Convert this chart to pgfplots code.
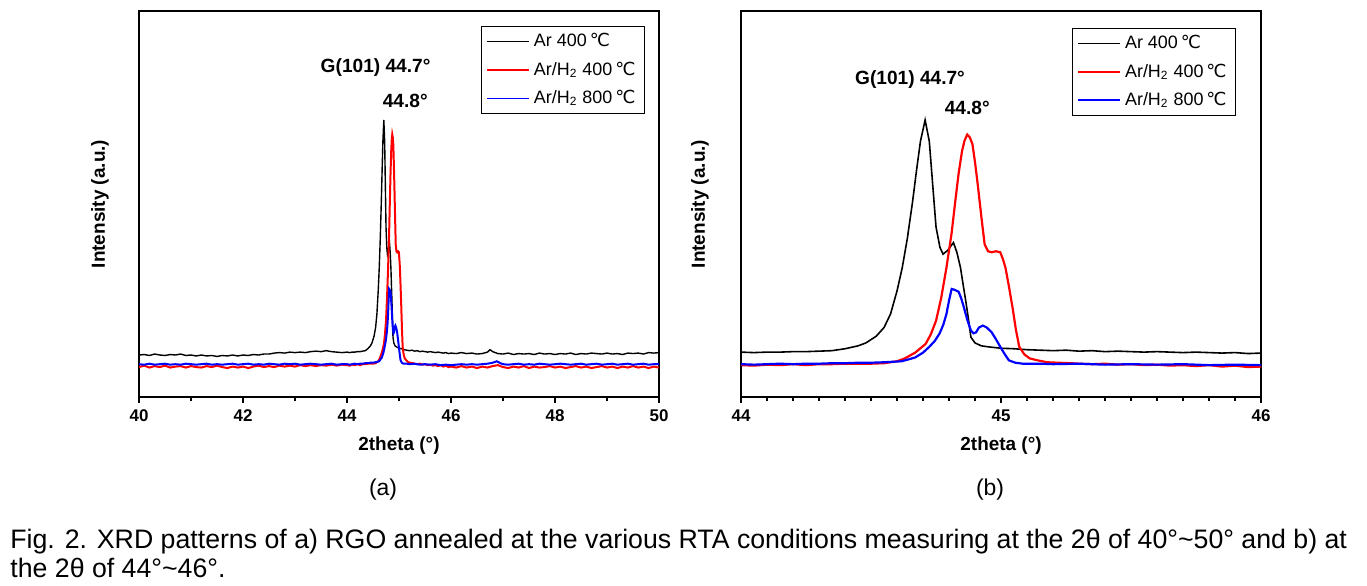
\documentclass[border=0pt]{standalone}
\usepackage{fontspec}
\setmainfont{Liberation Sans}
\newfontfamily\dejavu{DejaVu Sans}
\usepackage{pgfplots}
\pgfplotsset{compat=1.18}
\usepackage{pgfplotstable}
\newcommand{\degC}{\,{\dejavu ℃}}

\pgfplotstableread{
x y
40.0 43.5
40.1 44
40.2 43
40.3 44.5
40.4 43.5
40.5 43
40.6 44
40.7 43.5
40.8 44.5
40.9 43
41.0 43.5
41.1 42.5
41.2 43.5
41.3 42.5
41.4 43
41.5 42
41.6 43
41.7 42.5
41.8 43.5
41.9 42.5
42.0 43.5
42.1 43
42.2 44
42.3 43.5
42.4 44.5
42.5 44.5
42.6 45.5
42.7 46
42.8 45.5
42.9 46.5
43.0 46
43.1 46.5
43.2 46
43.3 47
43.4 47.5
43.5 47
43.6 48
43.7 47
43.8 46.5
43.9 46
44.0 46.5
44.05 46
44.1 46.5
44.15 46.5
44.2 47
44.25 47
44.3 47.5
44.35 48
44.4 50
44.45 53
44.48 56
44.52 63
44.55 72
44.575 86
44.6 110
44.62 134
44.64 165
44.66 203
44.675 235
44.69 265
44.708 287
44.724 265
44.74 210
44.75 176
44.765 155
44.777 148
44.795 152
44.817 160
44.83 150
44.844 134
44.855 115
44.864 100
44.875 80
44.884 62
44.9 56
44.924 53
44.95 52
45.0 50.5
45.05 50
45.1 49
45.15 48.5
45.2 48
45.25 48.5
45.3 47.5
45.35 48
45.4 47
45.45 47.5
45.5 47
45.55 46.5
45.6 47
45.65 46.5
45.7 46
45.75 46.5
45.8 46
45.85 45.5
45.9 46
45.95 45
46.0 45.5
46.1 45
46.2 46
46.3 45
46.4 45.5
46.5 44.5
46.6 45
46.7 46.5
46.75 49
46.8 47
46.9 45
47.0 44.5
47.1 45.5
47.2 44
47.3 45
47.4 44.5
47.5 45
47.6 44
47.7 45.5
47.8 44.5
47.9 45
48.0 44
48.1 45
48.2 44.5
48.3 45.5
48.4 44
48.5 45
48.6 44.5
48.7 45.5
48.8 45
48.9 44.5
49.0 45.5
49.1 44.5
49.2 45
49.3 44
49.4 45.5
49.5 45
49.6 45.5
49.7 44.5
49.8 46
49.9 45.5
50.0 46
}\blackdata

\pgfplotstableread{
x y
40.0 31
40.1 32.5
40.2 30.5
40.3 32
40.4 31
40.5 32.5
40.6 30.5
40.7 31.5
40.8 32
40.9 30.5
41.0 32
41.1 31
41.2 30.5
41.3 32
41.4 31
41.5 32.5
41.6 31
41.7 30
41.8 31.5
41.9 30.5
42.0 31.5
42.1 30
42.2 31.5
42.3 32.5
42.4 31
42.5 32
42.6 31
42.7 32.5
42.8 31.5
42.9 32.5
43.0 31.5
43.1 33
43.2 32
43.3 33
43.4 32
43.5 33
43.6 32.5
43.7 33.5
43.8 32.5
43.9 33.5
44.0 33
44.05 32.5
44.1 33.5
44.15 33
44.2 34
44.25 33
44.3 34
44.35 34
44.4 34.5
44.45 34.5
44.5 34.5
44.55 35
44.6 37
44.63 40
44.67 46
44.71 55
44.73 65
44.75 79
44.77 103
44.79 134
44.81 170
44.824 203
44.837 232
44.85 255
44.86 266
44.87 272
44.88 269
44.89 262
44.9 243
44.91 221
44.925 185
44.937 158
44.95 151
44.964 150
44.98 151
44.997 150
45.007 143
45.017 134
45.03 115
45.044 93
45.057 70
45.07 52
45.09 44
45.11 40
45.14 38
45.177 36
45.22 35.5
45.27 35
45.3 34.5
45.35 34
45.4 34.5
45.45 33.5
45.5 34
45.55 33
45.6 33.5
45.65 32.5
45.7 33
45.75 32
45.8 33
45.85 31.5
45.9 32.5
45.95 31
46.0 31.5
46.1 30.5
46.2 32
46.3 30.5
46.4 31.5
46.5 30
46.6 31.5
46.7 30.5
46.8 32
46.9 33
47.0 31
47.1 30
47.2 31.5
47.3 30.5
47.4 32
47.5 30
47.6 31.5
47.7 30.5
47.8 31
47.9 32
48.0 30.5
48.1 31.5
48.2 30
48.3 31
48.4 32
48.5 30.5
48.6 31.5
48.7 30
48.8 31
48.9 32
49.0 30.5
49.1 31.5
49.2 30
49.3 31.5
49.4 30.5
49.5 32
49.6 30.5
49.7 31.5
49.8 30
49.9 31.5
50.0 30.5
}\reddata

\pgfplotstableread{
x y
40.0 34
40.1 33.5
40.2 34.5
40.3 33.5
40.4 34
40.5 34.5
40.6 33.5
40.7 34
40.8 33.5
40.9 34.5
41.0 34
41.1 33.5
41.2 34
41.3 34.5
41.4 33.5
41.5 34
41.6 33.5
41.7 34
41.8 34.5
41.9 33.5
42.0 34
42.1 34.5
42.2 33.5
42.3 34
42.4 33.5
42.5 34.5
42.6 34
42.7 33.5
42.8 34.5
42.9 34
43.0 34.5
43.1 33.5
43.2 34
43.3 34.5
43.4 34
43.5 33.5
43.6 34
43.7 34.5
43.8 33.5
43.9 34
44.0 34
44.05 33.5
44.1 34
44.15 34.5
44.2 34
44.25 34.5
44.3 34.5
44.35 35
44.4 35
44.45 35.5
44.5 35.5
44.55 36
44.617 37
44.645 39
44.67 41
44.7 46
44.724 52
44.745 58
44.764 66
44.778 75
44.79 86
44.8 100
44.81 112
44.822 111
44.837 109
44.847 102
44.857 93
44.87 80
44.884 69
44.894 66
44.904 67
44.915 72
44.93 74
44.945 72
44.964 67
44.98 60
44.997 52
45.015 44
45.03 38
45.055 35.5
45.084 34.5
45.15 34.5
45.2 34
45.3 34.5
45.4 33.5
45.5 34
45.6 33.5
45.7 34
45.8 33
45.9 33.5
46.0 33
46.1 33.5
46.2 34
46.3 33.5
46.4 34
46.5 33.5
46.6 34
46.7 34.5
46.8 35.5
46.88 37
46.95 35
47.0 34
47.1 33.5
47.2 34
47.3 34.5
47.4 33.5
47.5 34
47.6 33.5
47.7 34.5
47.8 34
47.9 33.5
48.0 34
48.1 34.5
48.2 34
48.3 33.5
48.4 34
48.5 34.5
48.6 33.5
48.7 34
48.8 34.5
48.9 33.5
49.0 34
49.1 34.5
49.2 33.5
49.3 34
49.4 34.5
49.5 33.5
49.6 34
49.7 34.5
49.8 33.5
49.9 34
50.0 34
}\bluedata

\pgfplotsset{
  xrdax/.style={
    scale only axis, width=260bp, height=193bp,
    anchor=south west,
    ymin=0, ymax=400, ytick=\empty,
    axis line style={line width=1.2pt},
    tick align=outside, xtick pos=bottom,
    major tick length=3bp, minor tick length=2bp,
    tick style={line width=0.8pt, black},
    /pgf/number format/assume math mode=true,
    xticklabel style={font=\fontsize{8.5}{10}\selectfont\bfseries},
    label style={font=\fontsize{9.5}{11}\selectfont\bfseries},
    xlabel={2theta (°)},
    ylabel={Intensity (a.u.)},
    xlabel style={at={(axis description cs:0.5,-0.127)}, anchor=center},
    legend style={font=\fontsize{9}{11}\selectfont, draw=black, line width=0.5pt,
      inner xsep=2.5bp, inner ysep=1.5bp, row sep=2bp, cells={anchor=west}},
    legend image code/.code={\draw[##1, line width=0.7pt] (0bp,0bp) -- (21bp,0bp);},
  },
}
\tikzset{annot/.style={font=\fontsize{9.6}{12}\selectfont\bfseries}}

\begin{document}
\begin{tikzpicture}[x=0.5bp,y=0.5bp]
\path[use as bounding box] (0,0) rectangle (1367,586);

\begin{axis}[xrdax, at={(69.5bp,94.5bp)},
  xmin=40, xmax=50, xtick={40,42,...,50}, minor xtick={41,43,...,49},
  legend style={at={(0.973,0.961)}, anchor=north east},
  ylabel style={at={(axis description cs:-0.075,0.5)}, anchor=center}]
\addplot[black, line width=0.7pt] table {\blackdata};
\addlegendentry{Ar 400\degC}
\addplot[red, line width=1pt] table {\reddata};
\addlegendentry{Ar/H\textsubscript{2} 400\degC}
\addplot[blue, line width=1pt] table {\bluedata};
\addlegendentry{Ar/H\textsubscript{2} 800\degC}
\node[annot] at (axis cs:44.55,341) {G(101) 44.7°};
\node[annot] at (axis cs:45.12,307) {44.8°};
\end{axis}

\begin{axis}[xrdax, at={(370.5bp,94.5bp)},
  xmin=44, xmax=46, xtick={44,45,46}, minor xtick={44.1,44.2,...,45.9},
  legend style={at={(0.952,0.956)}, anchor=north east},
  ylabel style={at={(axis description cs:-0.079,0.5)}, anchor=center}]
\addplot[black, line width=0.8pt] table {\blackdata};
\addlegendentry{Ar 400\degC}
\addplot[red, line width=1.1pt] table {\reddata};
\addlegendentry{Ar/H\textsubscript{2} 400\degC}
\addplot[blue, line width=1.1pt] table {\bluedata};
\addlegendentry{Ar/H\textsubscript{2} 800\degC}
\node[annot] at (axis cs:44.65,329) {G(101) 44.7°};
\node[annot] at (axis cs:44.87,300) {44.8°};
\end{axis}

\node[font=\fontsize{11.5}{14}\selectfont] at (383,96) {(a)};
\node[font=\fontsize{11.5}{14}\selectfont] at (990,96) {(b)};
\node[anchor=north west, align=left, inner sep=0pt, font=\fontsize{13.4}{14.2}\selectfont] at (10,57)
  {Fig. 2. XRD patterns of a) RGO annealed at the various RTA conditions measuring at the 2θ of 40°\textasciitilde 50° and b) at\\
   the 2θ of 44°\textasciitilde 46°.};
\end{tikzpicture}
\end{document}
